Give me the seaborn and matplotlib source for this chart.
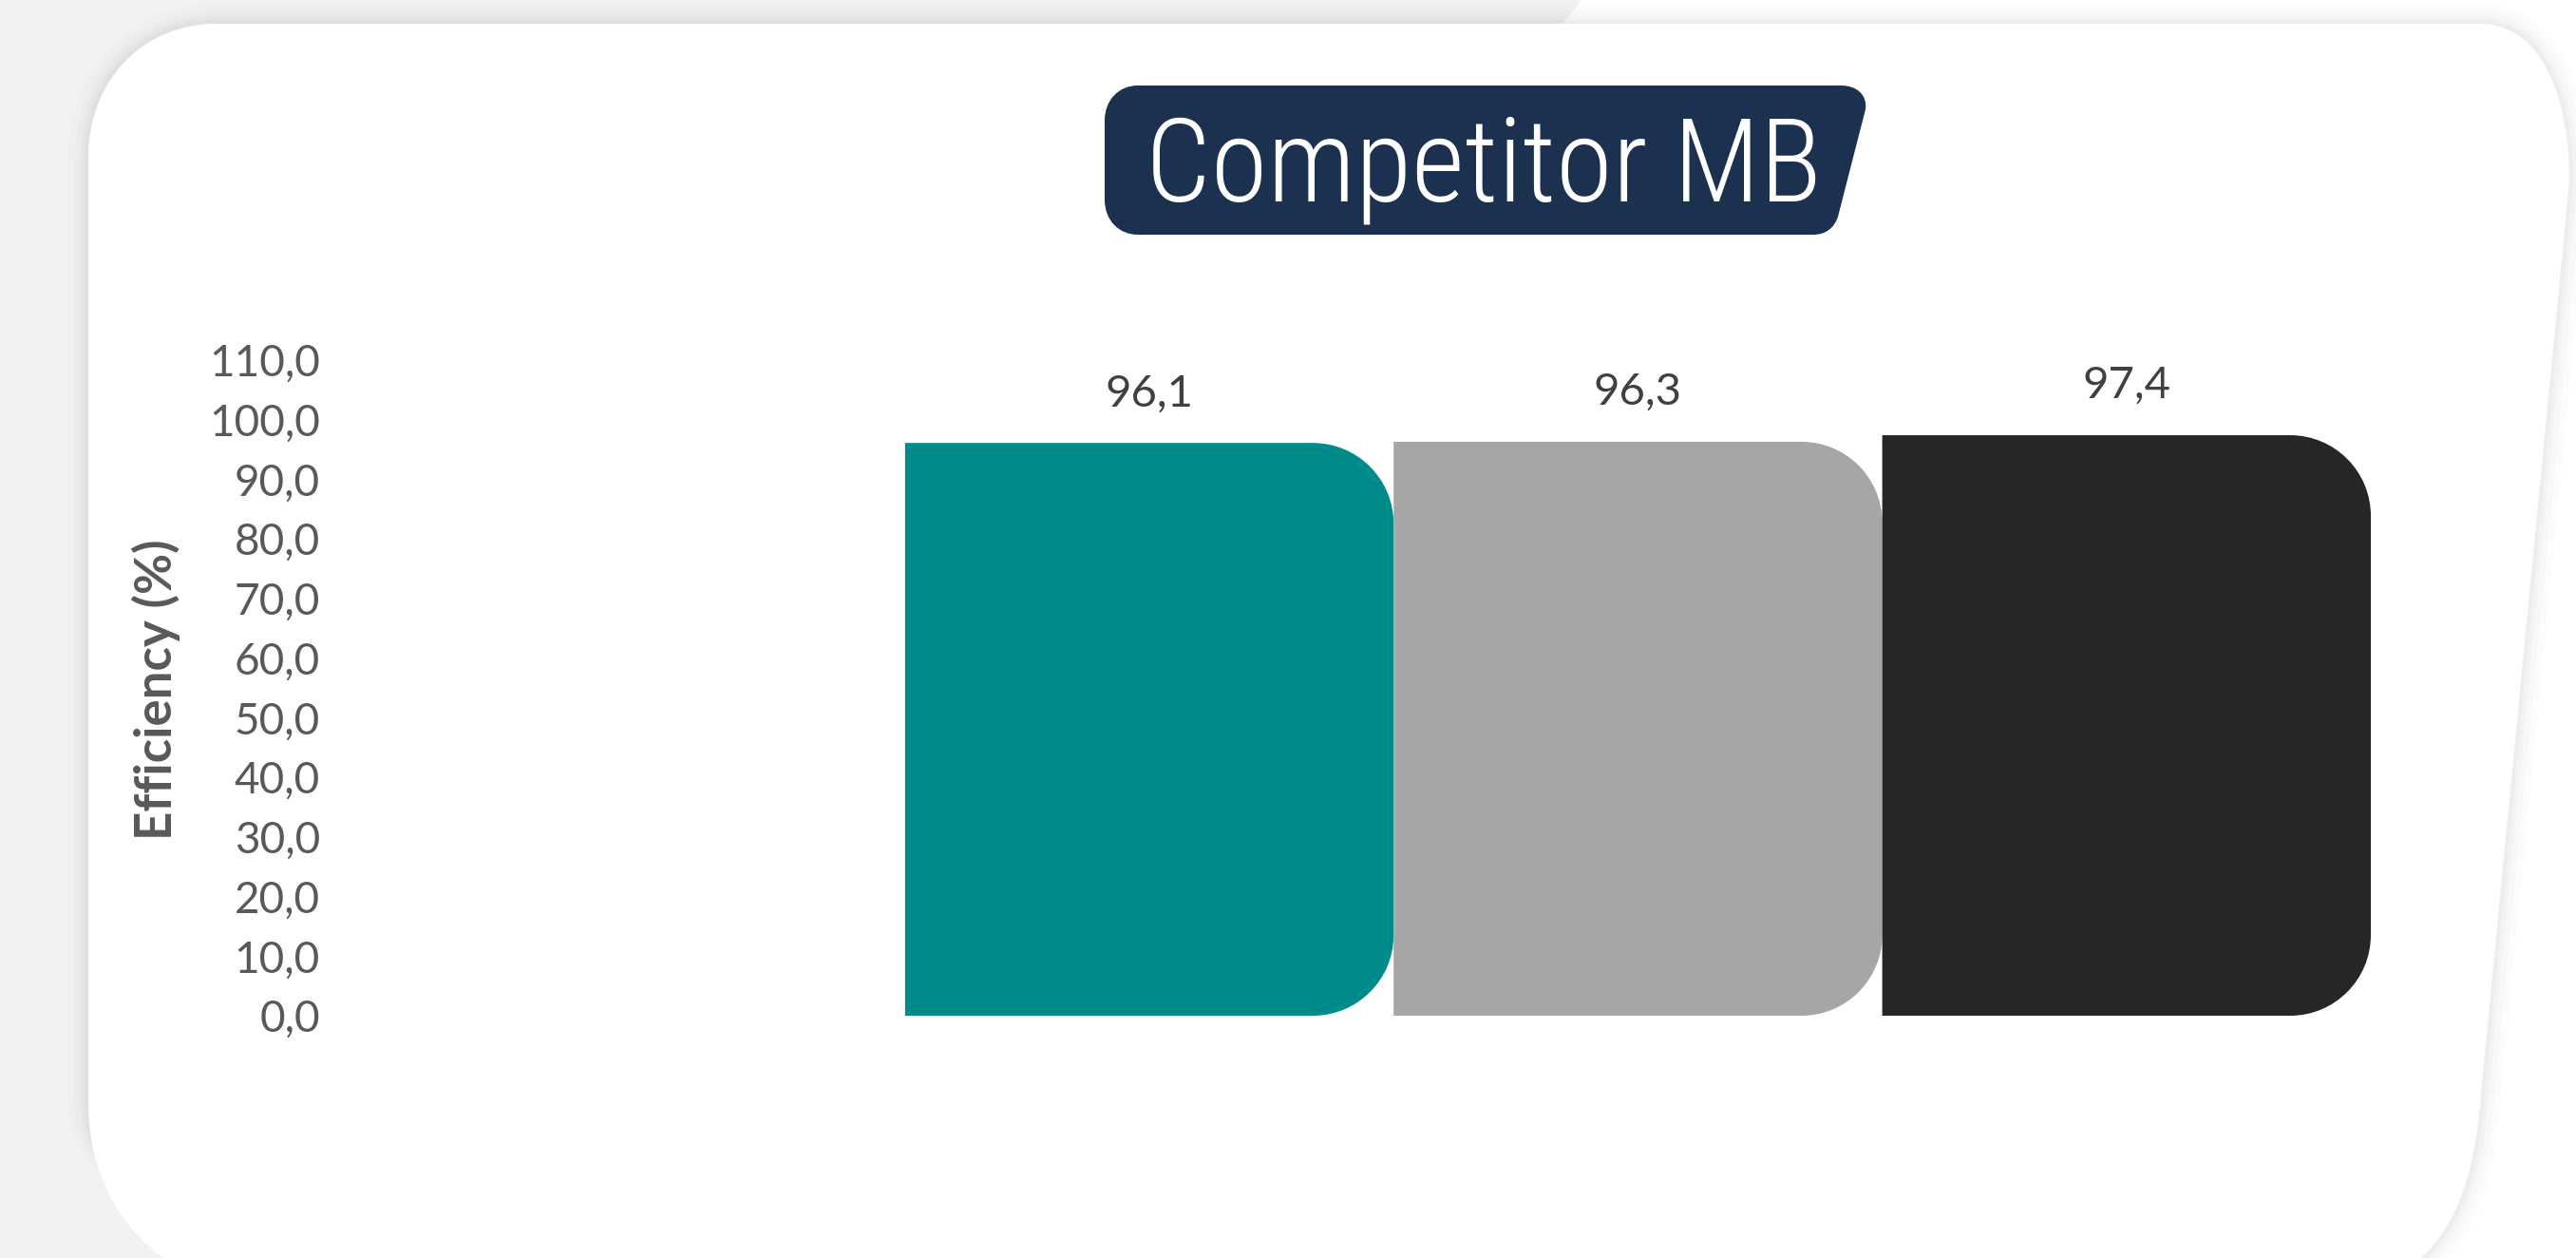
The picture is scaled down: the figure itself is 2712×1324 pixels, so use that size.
import pandas as pd
import matplotlib.pyplot as plt
import seaborn as sns
from matplotlib import font_manager
from matplotlib.path import Path
from matplotlib.patches import PathPatch, Polygon
from matplotlib.ticker import FuncFormatter

# data
products = ['Product 1', 'Product 2', 'Product 3']
efficiency = [96.1, 96.3, 97.4]
bar_colors = ['#008B8B', '#A6A6A6', '#262626']
y_ticks = list(range(0, 111, 10))
title = 'Competitor MB'
y_title = 'Efficiency (%)'

df = pd.DataFrame({'product': products, 'efficiency': efficiency})

sns.set_style('white')
plt.rcParams['font.family'] = ['Lato', 'DejaVu Sans']

names = {f.name for f in font_manager.fontManager.ttflist}
title_family = next((n for n in ['Roboto Condensed', 'Open Sans Condensed',
                                 'Liberation Sans Narrow', 'Roboto'] if n in names),
                    'DejaVu Sans')

W, H = 2712, 1324
fig = plt.figure(figsize=(W / 100, H / 100), dpi=100, facecolor='#F2F2F2')

# background / card, drawn in pixel coordinates
bg = fig.add_axes([0, 0, 1, 1], zorder=0)
bg.set_xlim(0, W)
bg.set_ylim(H, 0)
bg.axis('off')

bg.add_patch(Polygon([(1645, 25), (1665, 0), (W, 0), (W, H), (2450, H), (2450, 25)],
                     closed=True, fc='white', ec='none'))

M, L, C, Z = Path.MOVETO, Path.LINETO, Path.CURVE4, Path.CLOSEPOLY
card_verts = [(93, 165),
              (93, 85), (150, 25), (228, 25),
              (2610, 25),
              (2680, 25), (2705, 110), (2705, 190),
              (2612, 1150),
              (2605, 1250), (2580, 1310), (2520, 1345),
              (210, 1345),
              (150, 1320), (93, 1260), (93, 1160),
              (93, 165)]
card_codes = [M, C, C, C, L, C, C, C, L, C, C, C, L, C, C, C, Z]
card = Path(card_verts, card_codes)
for lw, a in [(30, 0.012), (20, 0.016), (12, 0.02), (6, 0.025)]:
    bg.add_patch(PathPatch(card, fc='none', ec='black', lw=lw, alpha=a))
bg.add_patch(PathPatch(card, fc='white', ec='none'))

badge_verts = [(1163, 127),
               (1163, 105), (1178, 90), (1198, 90),
               (1938, 90),
               (1955, 90), (1966, 100), (1964, 115),
               (1935, 228),
               (1931, 240), (1922, 247), (1909, 247),
               (1198, 247),
               (1178, 247), (1163, 232), (1163, 210),
               (1163, 127)]
badge_codes = [M, C, C, C, L, C, C, C, L, C, C, C, L, C, C, C, Z]
bg.add_patch(PathPatch(Path(badge_verts, badge_codes), fc='#1C3050', ec='none'))

t = bg.text(1562, 212, title, ha='center', va='baseline', color='white',
            fontsize=96, fontweight='light', family=[title_family, 'DejaVu Sans'])
renderer = fig.canvas.get_renderer()
tw = t.get_window_extent(renderer).width
if tw > 712:
    t.set_fontsize(96 * 712 / tw)

# chart
ax = fig.add_axes([350 / W, (H - 1069) / H, 2146 / W, 690 / H], zorder=2)
ax.patch.set_alpha(0)
sns.barplot(data=df, x='product', y='efficiency', hue='product', palette=bar_colors,
            width=1, saturation=1, legend=False, ax=ax)
ax.set_xlim(-1.672, 2.5)
ax.set_ylim(0, 110)
ax.set_yticks(y_ticks)
ax.yaxis.set_major_formatter(FuncFormatter(lambda v, p: f'{v:.1f}'.replace('.', ',')))
ax.set_xticks([])
ax.set_xlabel('')
for s in ax.spines.values():
    s.set_visible(False)
ax.tick_params(axis='y', length=0, pad=9.4, labelsize=33, labelcolor='#595959')

ax.set_ylabel(y_title, fontsize=38, fontweight='bold', color='#595959')
ax.yaxis.set_label_coords((164 - 350) / 2146, 0.497)
ax.yaxis.label.set_va('center')

# right-hand rounded corners on each bar
p0 = ax.transData.transform((0, 0))
p1 = ax.transData.transform((1, 1))
rx = 85 / (p1[0] - p0[0])
ry = 85 / (p1[1] - p0[1])
k = 0.5523
for bar in list(ax.patches):
    x, y0 = bar.get_x(), bar.get_y()
    w, h = bar.get_width(), bar.get_height()
    xr, yt = x + w, y0 + h
    verts = [(x, y0), (xr - rx, y0),
             (xr - rx + k * rx, y0), (xr, y0 + ry - k * ry), (xr, y0 + ry),
             (xr, yt - ry),
             (xr, yt - ry + k * ry), (xr - rx + k * rx, yt), (xr - rx, yt),
             (x, yt), (x, y0)]
    codes = [M, L, C, C, C, L, C, C, C, L, Z]
    ax.add_patch(PathPatch(Path(verts, codes), fc=bar.get_facecolor(), ec='none',
                           clip_on=False))
    bar.set_visible(False)

for i, v in enumerate(efficiency):
    ax.annotate(f'{v:.1f}'.replace('.', ','), xy=(i, v), xytext=(0, 28),
                textcoords='offset points', ha='center', va='baseline',
                fontsize=34, color='#404040', annotation_clip=False)

fig.savefig('out.png', dpi=100, facecolor=fig.get_facecolor())
